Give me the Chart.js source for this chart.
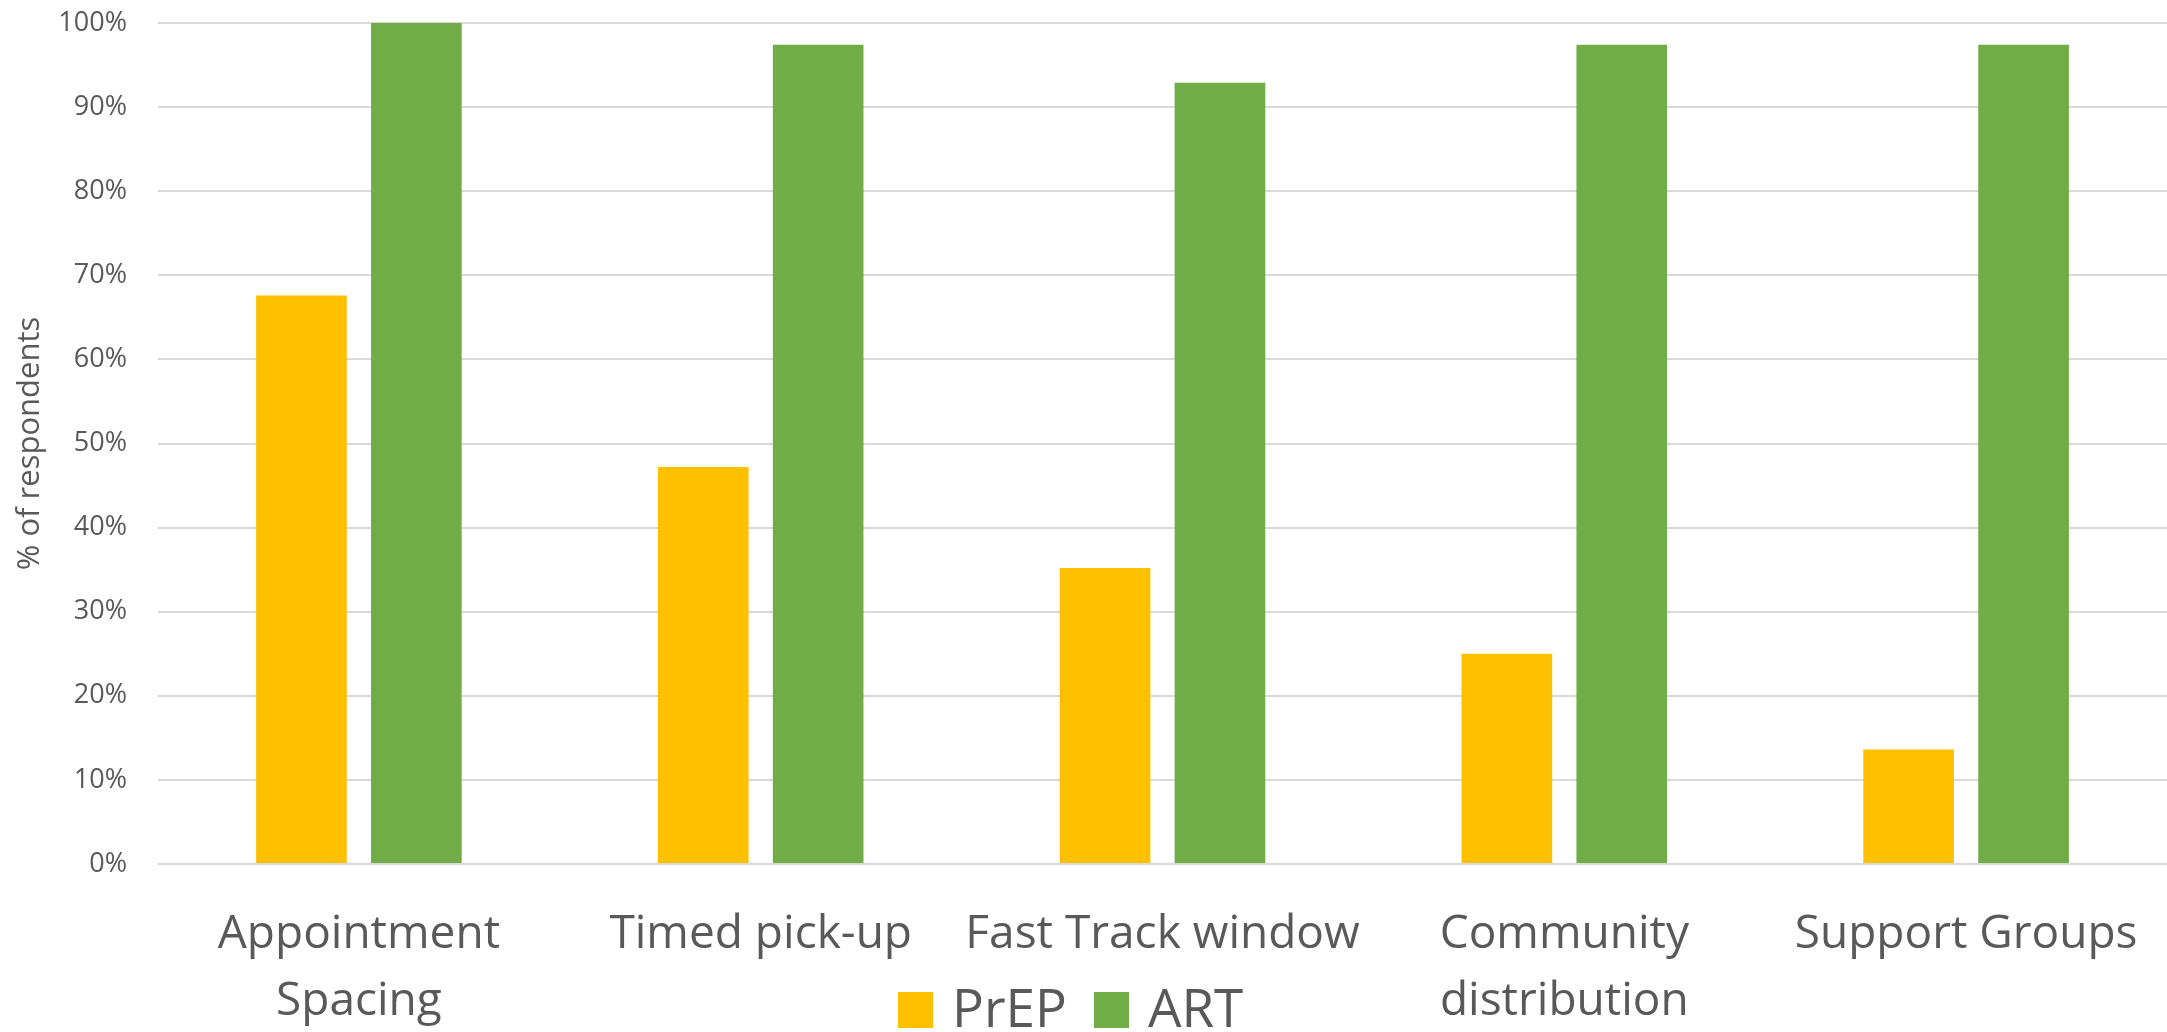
<!DOCTYPE html>
<html>
<head>
<meta charset="utf-8">
<script src="https://cdn.jsdelivr.net/npm/chart.js@4/dist/chart.umd.min.js"></script>
<style>
  body { margin: 0; background: #fff; }
  #wrap { position: relative; width: 2167px; height: 1032px; }
  #legend {
    position: absolute; left: 898px; top: 980px;
    display: flex; align-items: flex-start;
    font-family: "Open Sans", sans-serif; font-size: 53px; line-height: 53px; color: #595959;
  }
  #legend .item { display: flex; align-items: flex-start; }
  #legend .swatch { width: 35px; height: 36px; margin-top: 12px; margin-right: 19px; }
  #legend .item + .item { margin-left: 27px; }
</style>
</head>
<body>
<div id="wrap">
  <canvas id="chart"></canvas>
  <div id="legend"></div>
</div>
<script>
const categories = [
  ['Appointment', 'Spacing'],
  'Timed pick-up',
  'Fast Track window',
  ['Community', 'distribution'],
  'Support Groups'
];
const prepValues = [67.6, 47.2, 35.2, 25.0, 13.6];
const artValues = [100, 97.4, 92.9, 97.4, 97.4];
const seriesNames = ['PrEP', 'ART'];
const seriesColors = ['#FFC000', '#70AD47'];

const textColor = '#595959';
const fontFamily = '"Open Sans", sans-serif';

const ctx = document.getElementById('chart').getContext('2d');
const chart = new Chart(ctx, {
  type: 'bar',
  data: {
    labels: categories,
    datasets: [
      { label: seriesNames[0], data: prepValues, backgroundColor: seriesColors[0] },
      { label: seriesNames[1], data: artValues, backgroundColor: seriesColors[1] }
    ]
  },
  options: {
    responsive: true,
    maintainAspectRatio: false,
    animation: false,
    barPercentage: 0.789,
    categoryPercentage: 0.572,
    layout: { autoPadding: false, padding: { top: 23, right: 0, bottom: 0, left: 0 } },
    plugins: {
      legend: { display: false },
      tooltip: { enabled: false }
    },
    scales: {
      x: {
        grid: { display: false, drawTicks: false },
        border: { display: false },
        ticks: {
          color: textColor,
          font: { family: fontFamily, size: 46, lineHeight: 1.457 },
          padding: 37,
          maxRotation: 0,
          autoSkip: false
        },
        afterFit: (scale) => {
          scale.height = 168;
          scale.paddingLeft = 0;
          scale.paddingRight = 0;
        }
      },
      y: {
        min: 0,
        max: 100,
        grid: { color: '#d9d9d9', lineWidth: 2, drawTicks: false },
        border: { display: false },
        ticks: {
          stepSize: 10,
          color: textColor,
          font: { family: fontFamily, size: 27 },
          padding: 31,
          callback: (v) => v + '%'
        },
        title: {
          display: true,
          text: '% of respondents',
          color: textColor,
          font: { family: fontFamily, size: 31 },
          padding: { top: 12, bottom: 0 }
        },
        afterFit: (scale) => {
          scale.width = 158;
          scale.paddingTop = 0;
          scale.paddingBottom = 0;
        }
      }
    }
  }
});

// legend built from the same series names/colours
const legendEl = document.getElementById('legend');
seriesNames.forEach((name, i) => {
  const item = document.createElement('div');
  item.className = 'item';
  const sw = document.createElement('div');
  sw.className = 'swatch';
  sw.style.background = seriesColors[i];
  const label = document.createElement('span');
  label.textContent = name;
  item.appendChild(sw);
  item.appendChild(label);
  legendEl.appendChild(item);
});
</script>
</body>
</html>
